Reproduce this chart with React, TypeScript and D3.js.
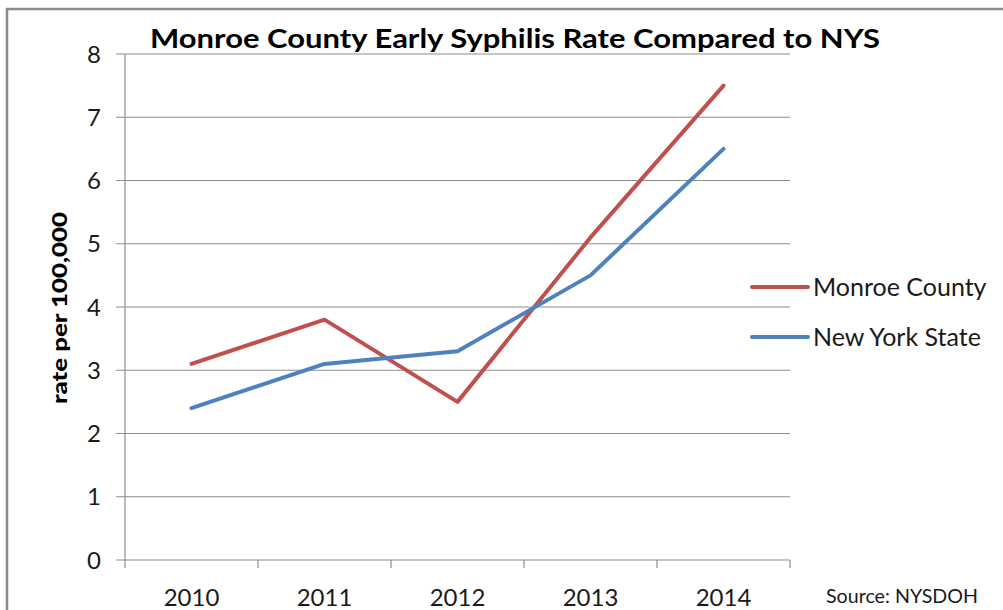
import React from 'react';
import * as d3 from 'd3';

const years = ['2010', '2011', '2012', '2013', '2014'];
const monroe = [3.1, 3.8, 2.5, 5.1, 7.5];
const nys = [2.4, 3.1, 3.3, 4.5, 6.5];
const yTicks = [0, 1, 2, 3, 4, 5, 6, 7, 8];
const seriesNames = ['Monroe County', 'New York State'];

const W = 1003;
const H = 610;
const left = 125;
const right = 790;
const top = 54;
const bottom = 560;
const font = 'Lato, "Open Sans", sans-serif';

export default function App() {
  const x = d3.scaleBand().domain(years).range([left, right]);
  const y = d3.scaleLinear().domain([0, 8]).range([bottom, top]);
  const cx = (d: string) => (x(d) as number) + x.bandwidth() / 2;

  const line = d3
    .line<number>()
    .x((d, i) => cx(years[i]))
    .y(d => y(d));

  const series = [
    { name: seriesNames[0], values: monroe, color: '#C0504D' },
    { name: seriesNames[1], values: nys, color: '#4F81BD' },
  ];

  const bounds = [...years.map(d => x(d) as number), right];

  return (
    <svg
      width={W}
      height={H}
      style={{ position: 'absolute', left: 0, top: 0, background: '#fff' }}
      fontFamily={font}
    >
      <rect x={7} y={9} width={W + 10} height={H + 10} fill="#fff" stroke="#8c8c8c" strokeWidth={2.5} />

      {yTicks.map(t => (
        <g key={t}>
          <line x1={116} x2={right} y1={y(t)} y2={y(t)} stroke="#8e8e8e" strokeWidth={1.2} />
          <text x={101} y={y(t)} dy="0.36em" textAnchor="end" fontSize={24} fill="#1a1a1a">
            {t}
          </text>
        </g>
      ))}
      <line x1={left} x2={left} y1={top} y2={bottom} stroke="#8e8e8e" strokeWidth={1.2} />
      {bounds.map((b, i) => (
        <line key={i} x1={b} x2={b} y1={bottom} y2={bottom + 8} stroke="#8e8e8e" strokeWidth={1.2} />
      ))}
      {years.map(d => (
        <text key={d} x={cx(d)} y={606} textAnchor="middle" fontSize={24} fill="#1a1a1a">
          {d}
        </text>
      ))}

      {series.map(s => (
        <path
          key={s.name}
          d={line(s.values) as string}
          fill="none"
          stroke={s.color}
          strokeWidth={4}
          strokeLinecap="round"
          strokeLinejoin="round"
        />
      ))}

      <text
        x={515}
        y={48}
        textAnchor="middle"
        fontSize={26}
        fontWeight="bold"
        fill="#000"
        textLength={730}
        lengthAdjust="spacingAndGlyphs"
      >
        Monroe County Early Syphilis Rate Compared to NYS
      </text>

      <text
        transform="translate(67,308) rotate(-90)"
        textAnchor="middle"
        fontSize={21}
        fontWeight="900"
        fill="#000"
        textLength={192}
        lengthAdjust="spacingAndGlyphs"
      >
        rate per 100,000
      </text>

      {series.map((s, i) => (
        <g key={s.name} transform={`translate(0,${287 + i * 50})`}>
          <line x1={752} x2={808} y1={0} y2={0} stroke={s.color} strokeWidth={4} strokeLinecap="round" />
          <text x={813} y={0} dy="0.36em" fontSize={25} fill="#1a1a1a">
            {s.name}
          </text>
        </g>
      ))}

      <text x={826} y={603} fontSize={20} fill="#1a1a1a" textLength={152} lengthAdjust="spacingAndGlyphs">
        Source: NYSDOH
      </text>
    </svg>
  );
}
